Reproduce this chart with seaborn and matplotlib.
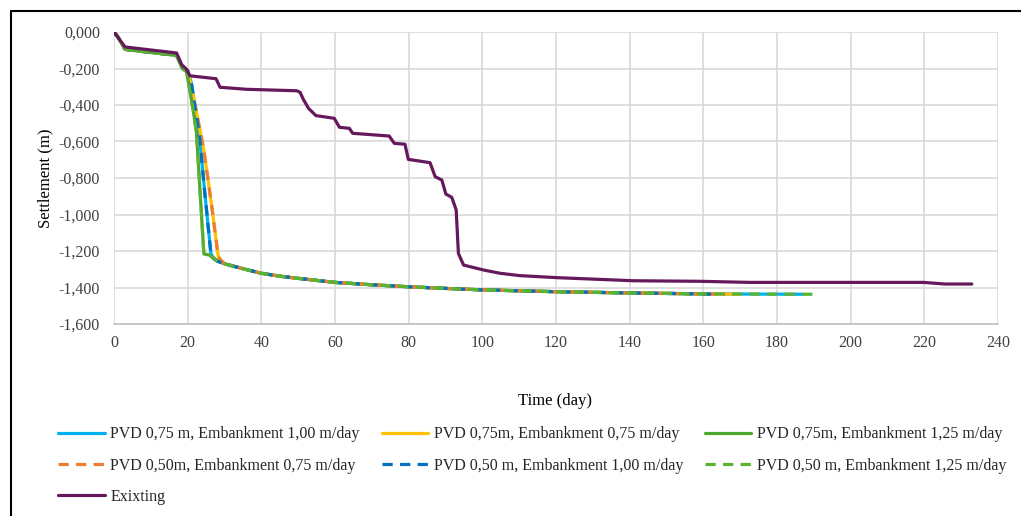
import matplotlib
matplotlib.use("Agg")
import matplotlib.pyplot as plt
from matplotlib.lines import Line2D
from matplotlib.ticker import FuncFormatter, MultipleLocator
import seaborn as sns

# common consolidation tail of the PVD runs (day, settlement m)
TAIL_X = [30, 35, 40, 45, 50, 60, 70, 80, 90, 100, 120, 140, 160]
TAIL_Y = [-1.270, -1.297, -1.322, -1.338, -1.350, -1.372, -1.385, -1.396,
          -1.405, -1.413, -1.423, -1.430, -1.435]

START_X = [0, 1, 3, 10, 17]
START_Y = [0.0, -0.025, -0.095, -0.112, -0.128]

# PVD 0,75 m / 0,50 m, embankment 1,00 m/day
fast_x = START_X + [18.5, 20, 21, 22.3, 23.3, 24.5, 26.3, 27, 28]
fast_y = START_Y + [-0.195, -0.212, -0.28, -0.45, -0.59, -0.85, -1.213, -1.24, -1.255]

# embankment 0,75 m/day
slow_x = START_X + [18.5, 20, 21, 22.5, 24.4, 26.5, 28.3, 29]
slow_y = START_Y + [-0.19, -0.21, -0.30, -0.45, -0.647, -0.95, -1.231, -1.25]

# embankment 1,25 m/day
quick_x = START_X + [18.5, 19.7, 21.5, 22.4, 24.4, 25.9, 27.9]
quick_y = START_Y + [-0.20, -0.217, -0.427, -0.555, -1.216, -1.222, -1.253]

end_day = {"blue_s": 187, "yellow": 170, "green_s": 161,
           "orange_d": 166, "blue_d": 163, "green_d": 190}
END_Y = -1.437

exist_x = [0, 3, 17, 18.4, 19.5, 20.6, 27.7, 28.8, 36, 49.6, 50.5, 51.4, 52.8,
           54.8, 59.8, 61.2, 63.9, 64.8, 74.7, 76.1, 79, 79.9, 85.8, 87.2, 89,
           90.1, 91.7, 92.9, 93.5, 94.9, 100.3, 104.8, 110.2, 120.2, 141, 159,
           172.7, 180, 219.8, 225.6, 232.9]
exist_y = [0.0, -0.082, -0.115, -0.18, -0.20, -0.24, -0.256, -0.303, -0.314,
           -0.322, -0.33, -0.369, -0.418, -0.458, -0.473, -0.522, -0.528, -0.555,
           -0.57, -0.61, -0.615, -0.698, -0.716, -0.793, -0.811, -0.888, -0.906,
           -0.975, -1.213, -1.277, -1.304, -1.322, -1.335, -1.346, -1.363, -1.366,
           -1.372, -1.372, -1.372, -1.381, -1.381]

labels = {
    "blue_s": "PVD 0,75 m, Embankment 1,00 m/day",
    "yellow": "PVD 0,75m, Embankment 0,75 m/day",
    "green_s": "PVD 0,75m, Embankment 1,25 m/day",
    "orange_d": "PVD 0,50m, Embankment 0,75 m/day",
    "blue_d": "PVD 0,50 m, Embankment 1,00 m/day",
    "green_d": "PVD 0,50 m, Embankment 1,25 m/day",
}


def full(hx, hy, key):
    return hx + TAIL_X + [end_day[key]], hy + TAIL_Y + [END_Y]


sns.set_theme(style="white")
plt.rcParams["font.family"] = ["Liberation Serif", "DejaVu Serif"]

fig = plt.figure(figsize=(10.21, 5.16), dpi=100)
ax = fig.add_axes([114 / 1021, 1 - 324 / 516, 884 / 1021, 292 / 516])

lw = 2.3
dash = (3.2, 2.3)
series = [
    ("blue_s", fast_x, fast_y, "#00B0F0", "-"),
    ("yellow", slow_x, slow_y, "#FFC000", "-"),
    ("green_s", quick_x, quick_y, "#4EA72E", "-"),
    ("orange_d", slow_x, slow_y, "#ED7D31", "--"),
    ("blue_d", fast_x, fast_y, "#0070C0", "--"),
    ("green_d", quick_x, quick_y, "#5CB331", "--"),
]
handles = {}
for key, hx, hy, col, ls in series:
    x, y = full(hx, hy, key)
    kw = dict(dashes=dash) if ls == "--" else {}
    sns.lineplot(x=x, y=y, ax=ax, color=col, linewidth=lw, estimator=None,
                 sort=False, **kw)
    handles[key] = Line2D([], [], color=col, linewidth=lw, linestyle=ls,
                          **({"dashes": dash} if ls == "--" else {}))

sns.lineplot(x=exist_x, y=exist_y, ax=ax, color="#65195C", linewidth=lw,
             estimator=None, sort=False)
handles["exist"] = Line2D([], [], color="#65195C", linewidth=lw)
labels["exist"] = "Exixting"

ax.set_xlim(0, 240)
ax.set_ylim(-1.6, 0)
ax.xaxis.set_major_locator(MultipleLocator(20))
ax.yaxis.set_major_locator(MultipleLocator(0.2))
ax.yaxis.set_major_formatter(FuncFormatter(lambda v, p: f"{v:.3f}".replace(".", ",").replace("-0,000", "0,000")))
ax.grid(True, color="#D9D9D9", linewidth=1.2)
ax.set_axisbelow(True)
for s in ["top", "right", "left"]:
    ax.spines[s].set_visible(False)
ax.spines["bottom"].set_color("#BFBFBF")
ax.spines["bottom"].set_linewidth(1.2)
ax.tick_params(axis="both", length=0, labelsize=11.5, colors="#404040")
ax.tick_params(axis="y", pad=10)
ax.tick_params(axis="x", pad=8)
for t in ax.get_xticklabels() + ax.get_yticklabels():
    t.set_color("#404040")
ax.set_xlabel("")
ax.set_ylabel("")

fig.text(555 / 1021, 1 - 401 / 516, "Time (day)", ha="center", va="center",
         fontsize=12, color="black")
fig.text(45 / 1021, 1 - 178 / 516, "Settlement (m)", ha="center", va="center",
         rotation=90, fontsize=12, color="black")

order = ["blue_s", "orange_d", "exist", "yellow", "blue_d", "green_s", "green_d"]
fig.legend([handles[k] for k in order], [labels[k] for k in order],
           ncol=3, loc="upper left", bbox_to_anchor=(52 / 1021, 1 - 420 / 516),
           frameon=False, fontsize=11.5, handlelength=2.9, handletextpad=0.35,
           columnspacing=1.38, labelspacing=0.95, borderaxespad=0)

# outer chart frame
fig.add_artist(Line2D([10.5 / 1021, 10.5 / 1021], [0, 1 - 10.5 / 516],
                      transform=fig.transFigure, color="black", linewidth=1.5))
fig.add_artist(Line2D([10.5 / 1021, 1], [1 - 10.5 / 516, 1 - 10.5 / 516],
                      transform=fig.transFigure, color="black", linewidth=1.5))

fig.savefig("out.png", dpi=100)
